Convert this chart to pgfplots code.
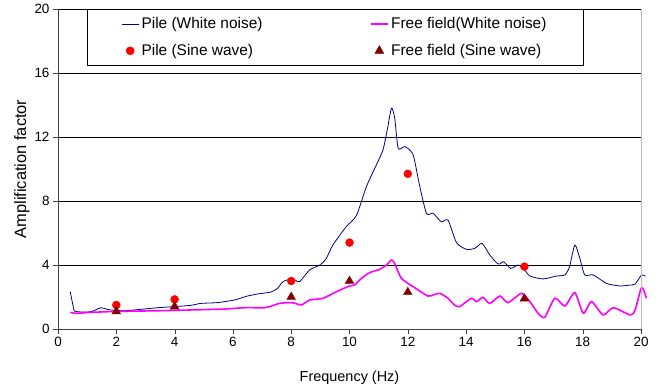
\documentclass[border=0pt]{standalone}
\usepackage{fontspec}
\setmainfont{Liberation Sans}
\usepackage{pgfplots}
\pgfplotsset{compat=1.18}
\definecolor{navyline}{RGB}{0,0,128}
\definecolor{ffmag}{RGB}{255,0,255}
\definecolor{darkred}{RGB}{128,0,0}
\begin{document}
\begin{tikzpicture}
\useasboundingbox (-58bp,-61bp) rectangle (600bp,329bp);
\begin{axis}[
  at={(0,0)}, anchor=south west,
  scale only axis, width=583bp, height=320bp,
  xmin=0, xmax=20, ymin=0, ymax=20,
  xtick={0,2,...,20}, ytick={0,4,...,20},
  axis x line*=bottom, axis y line*=left,
  axis line style={-, draw=black!75},
  tick align=outside, major tick length=5bp,
  tick style={black!75},
  ymajorgrids, grid style={black, line width=0.6pt},
  clip=false,
  /pgf/number format/assume math mode=true,
  ticklabel style={font=\fontsize{13.5}{16}\selectfont},
  label style={font=\fontsize{14.5}{17}\selectfont},
  xlabel={Frequency (Hz)}, ylabel={Amplification factor},
  xlabel style={at={(axis description cs:0.5,-0.153)}, anchor=center},
  ylabel style={at={(axis description cs:-0.062,0.5)}, anchor=center, font=\fontsize{16.5}{19}\selectfont},
  legend columns=2,
  legend style={at={(rel axis cs:0.0497,1)}, anchor=north west, draw=black, line width=0.6pt,
    fill=white, font=\fontsize{15.5}{18}\selectfont, inner xsep=34bp, inner ysep=6.5bp,
    nodes={inner xsep=2.5bp, inner ysep=2bp},
    /tikz/every even column/.append style={column sep=0bp},
    row sep=10bp},
  legend cell align=left,
  legend image code/.code={\draw[mark repeat=2,mark phase=2,#1] plot coordinates {(0bp,0bp)(8.5bp,0bp)(17bp,0bp)};},
]
\addplot[navyline, line width=0.8pt, smooth, tension=0.4] coordinates {
(0.42,2.33)(0.50,1.6)(0.56,1.14)(0.67,1.08)(0.9,1.06)(1.13,1.08)(1.3,1.2)(1.47,1.33)(1.65,1.25)(1.81,1.19)
(2.27,1.14)(2.84,1.23)(3.42,1.33)(3.99,1.40)(4.56,1.48)(4.9,1.6)(5.47,1.65)(6.05,1.81)(6.3,1.95)(6.5,2.06)
(6.85,2.19)(7.3,2.31)(7.53,2.54)(7.72,2.96)(7.95,3.1)(8.15,3.05)(8.29,2.96)(8.63,3.69)(8.98,4.0)(9.2,4.4)
(9.43,5.25)(9.89,6.4)(10.24,7.1)(10.58,8.9)(10.92,10.25)(11.15,11.2)(11.3,12.5)(11.44,13.8)(11.55,13.2)
(11.67,11.3)(11.9,11.4)(12.18,10.9)(12.4,9.0)(12.64,7.23)(12.87,7.23)(13.15,6.7)(13.38,6.8)(13.67,5.4)
(14.01,4.98)(14.3,5.04)(14.55,5.35)(14.81,4.63)(15.1,4.06)(15.29,4.2)(15.53,3.79)(15.79,4.0)(16.01,3.69)
(16.19,3.31)(16.64,3.13)(17.1,3.31)(17.39,3.38)(17.55,3.9)(17.73,5.25)(17.9,4.42)(18.07,3.38)(18.36,3.38)
(18.82,2.85)(19.28,2.69)(19.63,2.75)(19.8,2.81)(20.02,3.38)(20.15,3.3)
};
\addlegendentry{\makebox[226bp][l]{Pile (White noise)}}
\addplot[ffmag, line width=1.6pt, smooth, tension=0.4] coordinates {
(0.42,1.04)(0.6,0.98)(0.8,1.0)(1.13,1.04)(2.04,1.1)(3.42,1.14)(4.56,1.19)(5.72,1.25)(6.4,1.33)(7.09,1.33)
(7.26,1.4)(7.6,1.6)(7.95,1.65)(8.15,1.6)(8.35,1.5)(8.63,1.81)(9.09,1.92)(9.55,2.33)(10.0,2.69)(10.18,2.75)
(10.41,3.17)(10.69,3.52)(11.04,3.73)(11.27,4.0)(11.44,4.31)(11.55,4.1)(11.78,3.17)(12.18,2.65)(12.69,2.06)
(12.9,2.15)(13.1,2.23)(13.38,1.92)(13.6,1.5)(13.78,1.4)(14.18,1.92)(14.36,1.71)(14.58,1.98)(14.81,1.6)
(15.16,2.06)(15.44,1.65)(15.9,2.23)(16.19,1.71)(16.47,0.98)(16.7,0.73)(17.04,1.92)(17.39,1.44)(17.73,2.27)
(18.02,0.98)(18.3,1.71)(18.7,0.88)(19.05,1.33)(19.63,0.88)(19.8,1.19)(20.02,2.6)(20.19,1.92)
};
\addlegendentry{Free field(White noise)}
\addplot[only marks, mark=*, mark size=4bp, red, mark options={draw=red, fill=red}] coordinates {
(2,1.5)(4,1.85)(8,3.0)(10,5.4)(12,9.7)(16,3.9)
};
\addlegendentry{Pile (Sine wave)}
\addplot[only marks, mark=triangle*, mark size=5bp, darkred, mark options={draw=darkred, fill=darkred}] coordinates {
(2,1.1)(4,1.4)(8,2.0)(10,3.0)(12,2.3)(16,1.9)
};
\addlegendentry{Free field (Sine wave)}
\draw[black!25, line width=0.8pt] (rel axis cs:1,0) -- (rel axis cs:1,1);
\end{axis}
\end{tikzpicture}
\end{document}
